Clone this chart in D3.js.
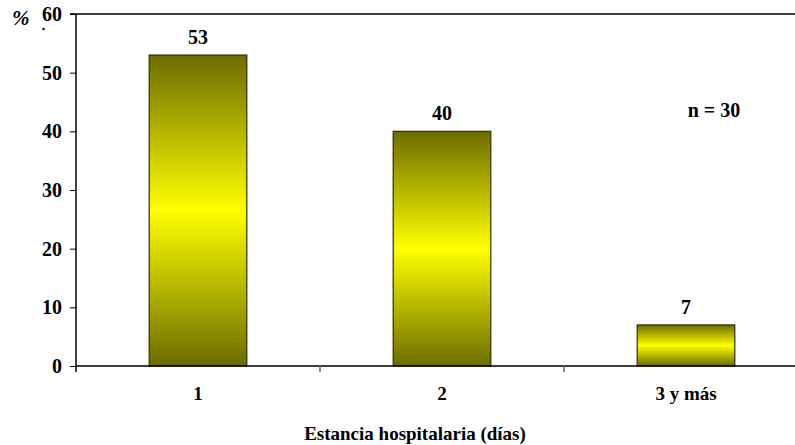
<!DOCTYPE html>
<html><head><meta charset="utf-8">
<script src="https://cdn.jsdelivr.net/npm/d3@7"></script>
<style>body{margin:0;background:#fff}svg{display:block}</style>
</head><body>
<svg id="c" width="795" height="445"></svg>
<script>
const categories = ["1", "2", "3 y más"];
const values = [53, 40, 7];
const yTicks = [0, 10, 20, 30, 40, 50, 60];
const xTitle = "Estancia hospitalaria (días)";
const yUnit = "%";
const note = "n = 30";

const FONT = "'Liberation Serif', 'Times New Roman', serif";
const svg = d3.select("#c");
const L = 76, R = 808, T = 14, B = 366;
const x = d3.scaleBand().domain(categories).range([L, R]).paddingInner(0).paddingOuter(0);
const y = d3.scaleLinear().domain([0, 60]).range([B, T]);

const defs = svg.append("defs");
const g = defs.append("linearGradient").attr("id", "grad").attr("x1", 0).attr("y1", 0).attr("x2", 0).attr("y2", 1);
g.append("stop").attr("offset", "0%").attr("stop-color", "#6c6c00");
g.append("stop").attr("offset", "50%").attr("stop-color", "#ffff00");
g.append("stop").attr("offset", "100%").attr("stop-color", "#6c6c00");

function txt(sel, size) {
  return sel.style("font-family", FONT).style("font-weight", "bold").style("font-size", size + "px").attr("fill", "#000");
}

svg.append("line").attr("x1", 70).attr("x2", 795).attr("y1", y(60)).attr("y2", y(60)).attr("stroke", "#000").attr("stroke-width", 1.5);

const bw = x.bandwidth() * 0.4;
svg.selectAll("rect.bar").data(values).enter().append("rect")
  .attr("class", "bar")
  .attr("x", (d, i) => x(categories[i]) + x.bandwidth() / 2 - bw / 2)
  .attr("y", d => y(d))
  .attr("width", bw)
  .attr("height", d => y(0) - y(d))
  .attr("fill", "url(#grad)")
  .attr("stroke", "#2e2e00").attr("stroke-width", 1.2);

const yAxis = svg.append("g").attr("transform", `translate(${L},0)`)
  .call(d3.axisLeft(y).tickValues(yTicks).tickSize(6).tickPadding(8));
yAxis.attr("font-family", null).attr("font-size", null);
yAxis.select(".domain").remove();
yAxis.selectAll("line").attr("stroke", "#000");
txt(yAxis.selectAll("text"), 20).attr("dy", "0.33em");
svg.append("line").attr("x1", L).attr("x2", L).attr("y1", T).attr("y2", B + 6).attr("stroke", "#000").attr("stroke-width", 1.5);

svg.append("line").attr("x1", L).attr("x2", 795).attr("y1", B).attr("y2", B).attr("stroke", "#000").attr("stroke-width", 1.5);
const bounds = categories.slice(1).map(c => x(c));
svg.selectAll("line.xt").data(bounds).enter().append("line")
  .attr("x1", d => d).attr("x2", d => d).attr("y1", B).attr("y2", B + 6)
  .attr("stroke", "#666").attr("stroke-width", 1.5);
txt(svg.selectAll("text.xl").data(categories).enter().append("text")
  .attr("x", d => x(d) + x.bandwidth() / 2).attr("y", 400)
  .attr("text-anchor", "middle"), 19).text(d => d);

txt(svg.selectAll("text.vl").data(values).enter().append("text")
  .attr("x", (d, i) => x(categories[i]) + x.bandwidth() / 2).attr("y", d => y(d) - 11)
  .attr("text-anchor", "middle"), 20).text(d => d);

txt(svg.append("text").attr("x", 415).attr("y", 440).attr("text-anchor", "middle"), 19).text(xTitle);
txt(svg.append("text").attr("x", 12).attr("y", 25), 21).style("font-style", "italic").text(yUnit);
svg.append("circle").attr("cx", 43.5).attr("cy", 29).attr("r", 1.2).attr("fill", "#000");
txt(svg.append("text").attr("x", 714).attr("y", 117).attr("text-anchor", "middle"), 20).text(note);
</script>
</body></html>
